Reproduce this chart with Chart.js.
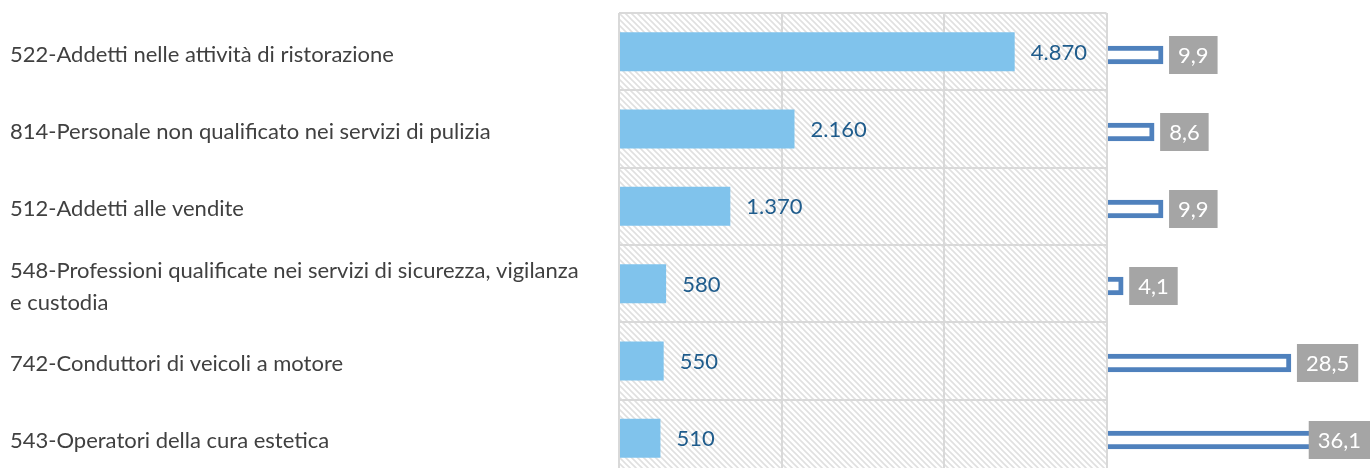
<!DOCTYPE html>
<html>
<head>
<meta charset="utf-8">
<script src="https://cdn.jsdelivr.net/npm/chart.js@4"></script>
<style>
    body { margin: 0; background: #fff; overflow: hidden; }
    #wrap { position: relative; width: 1370px; height: 468px; overflow: hidden; }
    #mainChart { position: absolute; left: 0; top: 0; z-index: 2; }
    #shareChart { position: absolute; left: 1095px; top: 0; z-index: 1; }
</style>
</head>
<body>
<div id="wrap">
    <canvas id="mainChart" width="1108" height="480" style="width:1108px;height:480px"></canvas>
    <canvas id="shareChart" width="275" height="480" style="width:275px;height:480px"></canvas>
</div>
<script>
// DATA

const categories = [
    "522-Addetti nelle attività di ristorazione",
    "814-Personale non qualificato nei servizi di pulizia",
    "512-Addetti alle vendite",
    ["548-Professioni qualificate nei servizi di sicurezza, vigilanza", "e custodia"],
    "742-Conduttori di veicoli a motore",
    "543-Operatori della cura estetica"
];
const employees = [4870, 2160, 1370, 580, 550, 510];
const shares = [9.9, 8.6, 9.9, 4.1, 28.5, 36.1];
const xTicks = [0, 2000, 4000, 6000];

const FONT = "Lato";

// HELPERS

function formatThousands(v) {
    return String(v).replace(/\B(?=(\d{3})+(?!\d))/g, ".");
}

function formatShare(v) {
    return v.toFixed(1).replace(".", ",");
}

function makeHatch(ctx) {
    const c = document.createElement("canvas");
    c.width = 6;
    c.height = 6;
    const g = c.getContext("2d");
    g.strokeStyle = "#E0E0E0";
    g.lineWidth = 1.6;
    g.beginPath();
    g.moveTo(-1, -1); g.lineTo(7, 7);
    g.moveTo(-1, 5); g.lineTo(1, 7);
    g.moveTo(5, -1); g.lineTo(7, 1);
    g.stroke();
    return ctx.createPattern(c, "repeat");
}

// PLUGINS

const hatchBackground = {
    id: "hatchBackground",
    beforeDraw(chart) {
        const { ctx, chartArea: a } = chart;
        ctx.save();
        ctx.fillStyle = "#FFFFFF";
        ctx.fillRect(a.left, a.top, a.right - a.left, a.bottom - a.top);
        ctx.fillStyle = makeHatch(ctx);
        ctx.fillRect(a.left, a.top, a.right - a.left, a.bottom - a.top);
        ctx.restore();
    }
};

const valueLabels = {
    id: "valueLabels",
    afterDatasetsDraw(chart) {
        const ctx = chart.ctx;
        const meta = chart.getDatasetMeta(0);
        ctx.save();
        ctx.font = "22px " + FONT;
        ctx.fillStyle = "#1F5C8C";
        ctx.textAlign = "left";
        ctx.textBaseline = "middle";
        meta.data.forEach((bar, i) => {
            ctx.fillText(formatThousands(employees[i]), bar.x + 16, bar.y + 1);
        });
        ctx.restore();
    }
};

const shareLabels = {
    id: "shareLabels",
    afterDatasetsDraw(chart) {
        const ctx = chart.ctx;
        const meta = chart.getDatasetMeta(0);
        ctx.save();
        ctx.font = "22px " + FONT;
        ctx.textAlign = "center";
        ctx.textBaseline = "middle";
        meta.data.forEach((bar, i) => {
            const text = formatShare(shares[i]);
            const w = ctx.measureText(text).width + 18;
            const h = 38;
            let x = bar.x + 6;
            if (x + w > chart.width) x = chart.width - w;
            ctx.fillStyle = "#A5A5A5";
            ctx.fillRect(x, bar.y - h / 2, w, h);
            ctx.fillStyle = "#FFFFFF";
            ctx.fillText(text, x + w / 2, bar.y + 1);
        });
        ctx.restore();
    }
};

// MAIN CHART (employees)

new Chart(document.getElementById("mainChart"), {
    type: "bar",
    data: {
        labels: categories,
        datasets: [{
            data: employees,
            backgroundColor: "#80C3EC",
            barPercentage: 0.505,
            categoryPercentage: 1
        }]
    },
    options: {
        indexAxis: "y",
        responsive: false,
        animation: false,
        layout: { padding: { left: 10, right: 1.5, top: 13, bottom: 3 } },
        plugins: { legend: { display: false }, tooltip: { enabled: false } },
        scales: {
            x: {
                min: xTicks[0],
                max: xTicks[xTicks.length - 1],
                afterBuildTicks: axis => { axis.ticks = xTicks.map(v => ({ value: v })); },
                afterFit: axis => { axis.height = 0; },
                ticks: { display: false },
                grid: { color: "#D9D9D9", lineWidth: 2, drawTicks: false },
                border: { display: false }
            },
            y: {
                afterFit: axis => {
                    axis.width = 609;
                    axis.paddingTop = 0;
                    axis.paddingBottom = 0;
                },
                ticks: {
                    crossAlign: "far",
                    padding: 0,
                    labelOffset: 3,
                    color: "#404040",
                    font: { family: FONT, size: 22, lineHeight: 1.45 }
                },
                grid: { color: "#D9D9D9", lineWidth: 2, drawTicks: false, offset: true },
                border: { display: false }
            }
        }
    },
    plugins: [hatchBackground, valueLabels]
});

// SHARE CHART (percent, drawn behind)

new Chart(document.getElementById("shareChart"), {
    type: "bar",
    data: {
        labels: categories,
        datasets: [{
            data: shares,
            backgroundColor: "#FFFFFF",
            borderColor: "#4F81BD",
            borderWidth: 5,
            barThickness: 18
        }]
    },
    options: {
        indexAxis: "y",
        responsive: false,
        animation: false,
        layout: { padding: { left: 0, right: 0, top: 16.5, bottom: 1.5 } },
        plugins: { legend: { display: false }, tooltip: { enabled: false } },
        scales: {
            x: { display: false, min: 0, max: 40 },
            y: { display: false }
        }
    },
    plugins: [shareLabels]
});
</script>
</body>
</html>
